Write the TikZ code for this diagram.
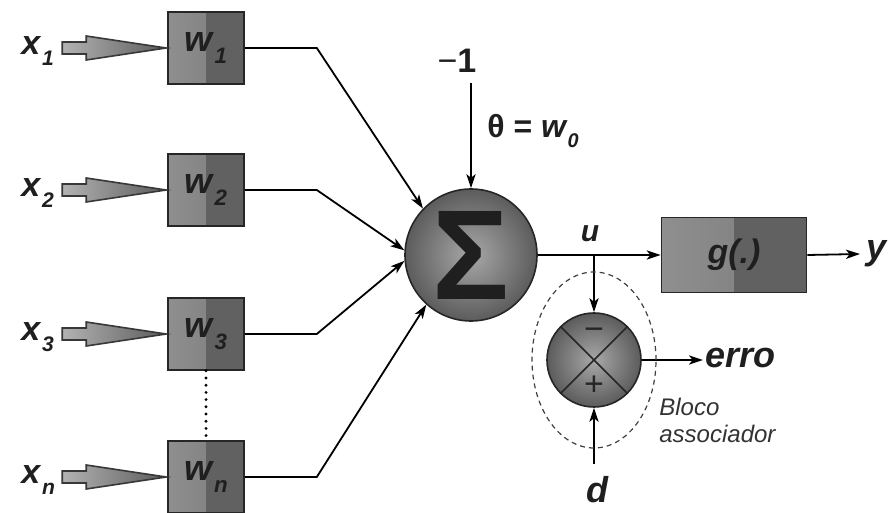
\documentclass[tikz,border=0pt]{standalone}
\usepackage{fontspec}
\usepackage{graphicx}
\setmainfont{Liberation Sans}
\usetikzlibrary{arrows.meta}
\newcommand{\idx}[2]{#1\kern0.05em\raisebox{-0.6ex}{\scalebox{0.62}{#2}}}

\begin{document}
\begin{tikzpicture}[x=0.5pt,y=-0.5pt,
    every node/.style={font=\bfseries\itshape\fontsize{18}{18}\selectfont, text=black!88, inner sep=1pt},
    conn/.style={line width=0.9pt, -{Stealth[length=7pt,width=4.6pt,inset=1.8pt]}},
    wbox/.style={draw=black!85, line width=0.8pt, minimum width=38pt, minimum height=36pt,
        left color=black!44, right color=black!52,
        path picture={\fill[black!62] (path picture bounding box.north) rectangle (path picture bounding box.south east);},
        font=\bfseries\itshape\fontsize{18}{18}\selectfont},
    ball/.style={circle, draw=black!85, line width=0.8pt, inner color=black!34, outer color=black!64},
    inarrow/.style={draw=black!78, line width=0.8pt, left color=black!30, right color=black!64},
    small/.style={font=\itshape\fontsize{12}{13.5}\selectfont, text=black!80, align=left}]
\useasboundingbox (0,0) rectangle (890,513);

\node[ball, minimum size=66pt, font=\bfseries\fontsize{64}{64}\selectfont] (soma) at (471,255) {Σ};
\node[wbox, minimum width=72.5pt, minimum height=37.5pt, font=\bfseries\itshape\fontsize{17}{17}\selectfont] (g) at (734,255) {g(.)};
\node[ball, minimum size=47pt, path picture={
    \draw[line width=0.8pt] (path picture bounding box.north west) -- (path picture bounding box.south east)
        (path picture bounding box.south west) -- (path picture bounding box.north east);}] (comp) at (594,360) {};
\node[font=\fontsize{17}{17}\selectfont, text=black!85] (minus) at ([yshift=13pt]comp.center) {−};
\node[font=\fontsize{17}{17}\selectfont, text=black!85] (plus) at ([yshift=-13pt]comp.center) {+};

\foreach \i/\s/\h/\a in {1/1/48/136, 2/2/190/176, 3/3/334/185, n/n/477/228}{
    \node[wbox] (w\i) at (206,\h) {\idx{w}{\s}};
    \node[anchor=base west, font=\bfseries\itshape\fontsize{17}{17}\selectfont] (x\i) at (19,\h+7) {\idx{x}{\s}};
    \draw[inarrow, shift={(w\i.west)}] (-105,-6) -- (-81,-6) -- (-81,-12) -- (-1,0) -- (-81,12) -- (-81,6) -- (-105,6) -- cycle;
    \draw[conn] (w\i.east) -- ++(72,0) -- (soma.\a);
}
\draw[line width=1.6pt, line cap=round, dash pattern=on 0pt off 3.6pt] (w3.south) -- (wn.north);

\node[font=\bfseries\fontsize{17}{17}\selectfont] (bias) at (457,61) {{\mdseries −}1};
\draw[conn, shorten <=4pt] (soma.north |- bias.south) -- (soma.north);
\node[font=\bfseries\fontsize{16}{16}\selectfont] (theta) at (533,131) {θ = \textit{\idx{w}{0}}};

\node[font=\bfseries\itshape\fontsize{15}{15}\selectfont] (u) at (590,234) {u};
\draw[conn] (soma.east) -- (g.west);
\draw[conn] (soma.east -| comp.north) -- (comp.north);

\node[anchor=west, inner sep=3pt] (y) at (860,254) {y};
\draw[conn] (g.east) -- (y.west);

\node[anchor=west] (erro) at (703,358) {erro};
\draw[conn] (comp.east) -- (comp.east -| erro.west);

\node (d) at (597,490) {d};
\draw[conn, shorten <=5pt] (d.north -| comp.south) -- (comp.south);

\draw[black!75, line width=0.6pt, dash pattern=on 2.5pt off 2pt] (comp.center) ellipse [x radius=31pt, y radius=44pt];
\node[small, anchor=north west] (bloco) at (657,396) {Bloco\\associador};
\end{tikzpicture}
\end{document}
